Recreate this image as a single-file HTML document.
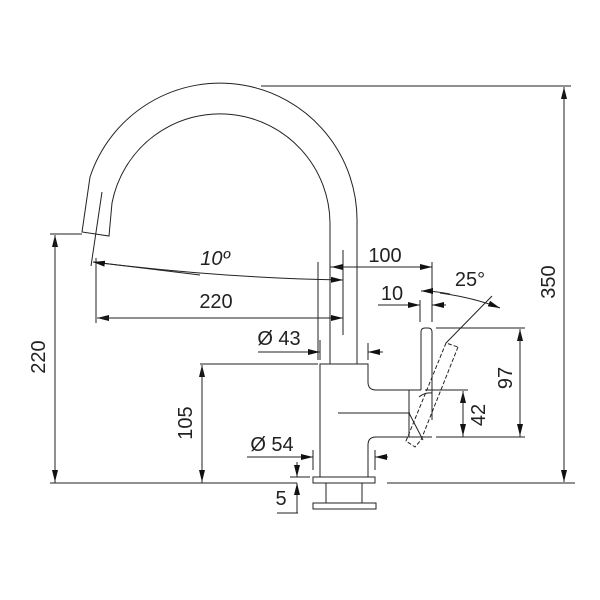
<!DOCTYPE html>
<html><head><style>html,body{margin:0;padding:0;background:#fff}svg{display:block}</style></head><body>
<svg width="600" height="600" viewBox="0 0 600 600" xmlns="http://www.w3.org/2000/svg" font-family="Liberation Sans, sans-serif" font-size="20" fill="none" stroke="#222" stroke-width="1">
<defs>
<marker id="a" viewBox="0 0 12 6" refX="12" refY="3" markerWidth="12" markerHeight="6" orient="auto" markerUnits="userSpaceOnUse"><path d="M0,0 L12,3 L0,6 z" fill="#111" stroke="none"/></marker>
</defs>
<!-- spout -->
<path d="M357,364 L357,223 A137,137 0 0 0 90,177 L82,232 L109,236 L112,203 A110,110 0 0 1 330,223 L330,364"/>
<line x1="102" y1="192" x2="91" y2="266"/>
<!-- body -->
<path d="M320,477 L320,364 L368,364 L368,382 Q368,390 376,390 L421,390"/>
<path d="M368,477 L368,445 Q368,437 376,437 L432,437"/>
<path d="M421,390 L421,332 Q421,328 425,328 L428,328 Q432,328 432,332 L432,420"/>
<line x1="409" y1="390" x2="409" y2="437"/>
<path d="M409,413 L423,440"/>
<path d="M419,397 Q425,392 432,393"/>
<line x1="338" y1="413" x2="410" y2="413"/>
<rect x="313" y="477" width="62" height="6"/>
<line x1="326" y1="483" x2="326" y2="503"/><line x1="362" y1="483" x2="362" y2="503"/>
<rect x="313" y="503" width="63" height="6"/>
<!-- dashed lever -->
<g stroke-dasharray="4,2">
<path d="M458,347 L421,440 L415,447 L406,441 L446,343 L458,347"/>
</g>
<!-- top/350 -->
<line x1="261" y1="86" x2="571" y2="86"/>
<line x1="564" y1="482" x2="564" y2="87" marker-end="url(#a)"/>
<line x1="564" y1="87" x2="564" y2="482" marker-end="url(#a)"/>
<line x1="50" y1="483" x2="297" y2="483"/>
<line x1="387" y1="483" x2="575" y2="483"/>
<!-- 220 left -->
<line x1="50" y1="234" x2="82" y2="234"/>
<line x1="55" y1="483" x2="55" y2="235" marker-end="url(#a)"/>
<line x1="55" y1="235" x2="55" y2="482" marker-end="url(#a)"/>
<!-- 105 -->
<line x1="200" y1="364" x2="318" y2="364"/>
<line x1="202" y1="483" x2="202" y2="365" marker-end="url(#a)"/>
<line x1="202" y1="365" x2="202" y2="482" marker-end="url(#a)"/>
<!-- 220 horizontal & 10 deg -->
<line x1="96" y1="258" x2="96" y2="323"/>
<line x1="343" y1="318" x2="97" y2="318" marker-end="url(#a)"/>
<line x1="97" y1="318" x2="343" y2="318" marker-end="url(#a)"/>
<path d="M93,262 Q220,278 343,280" marker-end="url(#a)"/>
<path d="M200,275 Q100,263 93,262" marker-end="url(#a)"/>
<line x1="343" y1="250" x2="343" y2="335"/>
<line x1="318" y1="262" x2="318" y2="360"/>
<!-- 100 -->
<line x1="345" y1="267" x2="331" y2="267" marker-end="url(#a)"/>
<line x1="330" y1="267" x2="432" y2="267" marker-end="url(#a)"/>
<line x1="432" y1="262" x2="432" y2="322"/>
<!-- 10 -->
<line x1="378" y1="305" x2="420" y2="305" marker-end="url(#a)"/>
<line x1="446" y1="305" x2="432" y2="305" marker-end="url(#a)"/>
<line x1="420" y1="300" x2="420" y2="322"/>
<!-- 25 deg -->
<path d="M440,293 Q475,298 500,308" marker-end="url(#a)"/>
<path d="M450,294 Q435,291 421,291" marker-end="url(#a)"/>
<line x1="492" y1="296" x2="446" y2="343"/>
<!-- 97 -->
<line x1="436" y1="328" x2="525" y2="328"/>
<line x1="436" y1="437" x2="525" y2="437"/>
<line x1="520" y1="437" x2="520" y2="329" marker-end="url(#a)"/>
<line x1="520" y1="329" x2="520" y2="436" marker-end="url(#a)"/>
<!-- 42 -->
<line x1="425" y1="390" x2="468" y2="390"/>
<line x1="463" y1="437" x2="463" y2="391" marker-end="url(#a)"/>
<line x1="463" y1="391" x2="463" y2="436" marker-end="url(#a)"/>
<!-- Ø43 -->
<line x1="258" y1="352" x2="320" y2="352" marker-end="url(#a)"/>
<line x1="383" y1="352" x2="368" y2="352" marker-end="url(#a)"/>
<line x1="320" y1="340" x2="320" y2="360"/><line x1="368" y1="343" x2="368" y2="360"/>
<!-- Ø54 -->
<line x1="247" y1="457" x2="313" y2="457" marker-end="url(#a)"/>
<line x1="388" y1="457" x2="375" y2="457" marker-end="url(#a)"/>
<line x1="313" y1="450" x2="313" y2="470"/><line x1="375" y1="450" x2="375" y2="470"/>
<!-- 5 -->
<line x1="297" y1="462" x2="297" y2="477" marker-end="url(#a)"/>
<line x1="297" y1="513" x2="297" y2="483" marker-end="url(#a)"/>
<line x1="290" y1="477" x2="310" y2="477"/>
<line x1="277" y1="513" x2="298" y2="513"/>
<g fill="#222" stroke="none">
<text x="215" y="265" text-anchor="middle" font-style="italic">10º</text>
<text x="216" y="308" text-anchor="middle">220</text>
<text x="385" y="262" text-anchor="middle">100</text>
<text x="392" y="300" text-anchor="middle">10</text>
<text x="470" y="286" text-anchor="middle">25°</text>
<text x="279" y="345" text-anchor="middle">Ø 43</text>
<text x="272" y="451" text-anchor="middle">Ø 54</text>
<text x="281" y="505" text-anchor="middle">5</text>
<text transform="translate(45,357) rotate(-90)" text-anchor="middle">220</text>
<text transform="translate(192,423) rotate(-90)" text-anchor="middle">105</text>
<text transform="translate(555,282) rotate(-90)" text-anchor="middle">350</text>
<text transform="translate(512,378) rotate(-90)" text-anchor="middle">97</text>
<text transform="translate(485,415) rotate(-90)" text-anchor="middle">42</text>
</g>
</svg>
</body></html>
